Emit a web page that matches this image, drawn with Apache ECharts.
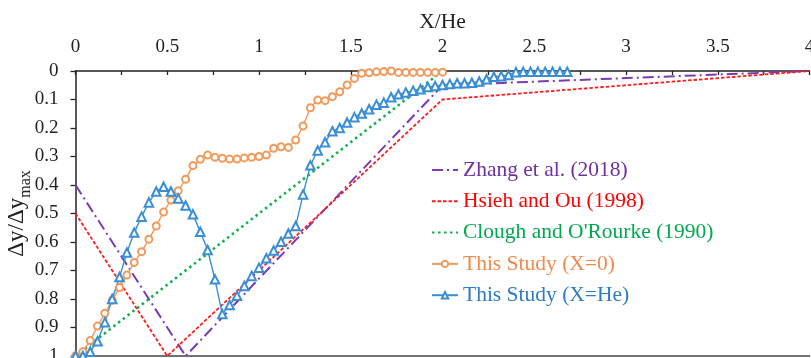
<!DOCTYPE html>
<html>
<head>
<meta charset="utf-8">
<script src="https://cdn.jsdelivr.net/npm/echarts@6/dist/echarts.min.js"></script>
<style>
  html, body { margin: 0; padding: 0; background: #fff; }
  #chart { width: 811px; height: 358px; }
</style>
</head>
<body>
<div id="chart"></div>
<script>
// reference curves (X/He, dy/dymax)
const zhangX = [0, 0.6, 2, 4];
const zhangY = [0.4, 1, 0.05, 0];
const hsiehX = [0, 0.5, 2, 4];
const hsiehY = [0.5, 1, 0.1, 0];
const cloughX = [0, 2];
const cloughY = [1, 0];

// this study, X = 0
const study0X = [0, 0.04, 0.08, 0.12, 0.16, 0.2, 0.24, 0.28, 0.32, 0.36,
  0.4, 0.44, 0.48, 0.52, 0.56, 0.6, 0.64, 0.68, 0.72, 0.76,
  0.8, 0.84, 0.88, 0.92, 0.96, 1, 1.04, 1.08, 1.12, 1.16,
  1.2, 1.24, 1.28, 1.32, 1.36, 1.4, 1.44, 1.48, 1.52, 1.56,
  1.6, 1.64, 1.68, 1.72, 1.76, 1.8, 1.84, 1.88, 1.92, 1.96, 2];
const study0Y = [1, 0.985, 0.946, 0.895, 0.85, 0.804, 0.76, 0.716, 0.672, 0.634,
  0.59, 0.544, 0.495, 0.453, 0.42, 0.38, 0.332, 0.31, 0.295, 0.303,
  0.306, 0.309, 0.309, 0.305, 0.303, 0.3, 0.295, 0.271, 0.266, 0.268,
  0.242, 0.193, 0.129, 0.102, 0.104, 0.09, 0.073, 0.049, 0.026, 0.008,
  0.006, 0.003, 0.002, 0, 0.005, 0.005, 0.005, 0.005, 0.005, 0.005, 0.004];

// this study, X = He
const studyHeX = [0, 0.04, 0.08, 0.12, 0.16, 0.2, 0.24, 0.28, 0.32, 0.36,
  0.4, 0.44, 0.48, 0.52, 0.56, 0.6, 0.64, 0.68, 0.72, 0.76,
  0.8, 0.84, 0.88, 0.92, 0.96, 1, 1.04, 1.08, 1.12, 1.16,
  1.2, 1.24, 1.28, 1.32, 1.36, 1.4, 1.44, 1.48, 1.52, 1.56,
  1.6, 1.64, 1.68, 1.72, 1.76, 1.8, 1.84, 1.88, 1.92, 1.96,
  2, 2.04, 2.08, 2.12, 2.16, 2.2, 2.24, 2.28, 2.32, 2.36,
  2.4, 2.44, 2.48, 2.52, 2.56, 2.6, 2.64, 2.68];
const studyHeY = [1, 1, 0.985, 0.948, 0.882, 0.8, 0.723, 0.637, 0.567, 0.511,
  0.461, 0.423, 0.406, 0.423, 0.447, 0.472, 0.503, 0.564, 0.628, 0.731,
  0.853, 0.821, 0.789, 0.754, 0.719, 0.69, 0.657, 0.63, 0.599, 0.57,
  0.544, 0.433, 0.331, 0.279, 0.25, 0.211, 0.2, 0.181, 0.162, 0.149,
  0.134, 0.118, 0.111, 0.092, 0.082, 0.075, 0.069, 0.064, 0.056, 0.053,
  0.049, 0.046, 0.043, 0.043, 0.041, 0.037, 0.029, 0.02, 0.018, 0.014,
  0.004, 0.003, 0.003, 0.003, 0.003, 0.003, 0.003, 0.003];

const names = ['Zhang et al. (2018)', 'Hsieh and Ou (1998)', "Clough and O'Rourke (1990)",
  'This Study (X=0)', 'This Study (X=He)'];
const colors = ['#7a3cb0', '#ff1a1a', '#12b050', '#f09a5c', '#3a8ed6'];
const textColors = ['#7030a0', '#ff0000', '#00a84f', '#f08a4b', '#2e7bc4'];

function pairs(xs, ys) {
  return xs.map(function (x, i) { return [x, ys[i]]; });
}

const font = '"Liberation Serif", "Times New Roman", serif';
const myChart = echarts.init(document.getElementById('chart'));

option = {
  backgroundColor: '#fff',
  animation: false,
  textStyle: { fontFamily: font },
  grid: { left: 75.5, right: 1.5, top: 71, bottom: 2, outerBoundsMode: 'none', containLabel: false },
  legend: {
    orient: 'vertical',
    left: 431,
    top: 159,
    padding: 0,
    itemWidth: 26,
    itemHeight: 8,
    itemGap: 9.3,
    textStyle: { fontFamily: font, fontSize: 21.5 },
    data: names.map(function (n, i) {
      var item = { name: n, textStyle: { fontFamily: font, fontSize: 21.5, color: textColors[i] } };
      if (i < 3) item.itemStyle = { opacity: 0 };
      return item;
    })
  },
  xAxis: [{
    type: 'value',
    position: 'top',
    min: 0, max: 4, interval: 0.25,
    name: 'X/He',
    nameLocation: 'middle',
    nameGap: 36,
    nameTextStyle: { fontFamily: font, fontSize: 21.5, color: '#222' },
    axisLine: { onZero: false, lineStyle: { color: '#222', width: 1.5 } },
    axisTick: { inside: true, length: 4, lineStyle: { color: '#222', width: 1.3 } },
    axisLabel: {
      margin: 14, fontFamily: font, fontSize: 19, color: '#222',
      formatter: function (v) { return (Math.round(v * 4) % 2 === 0) ? String(v) : ''; }
    },
    splitLine: { show: false }
  }, {
    type: 'value',
    position: 'bottom',
    min: 0, max: 4,
    axisLine: { onZero: false, lineStyle: { color: '#444', width: 1.5 } },
    axisTick: { show: false },
    axisLabel: { show: false },
    splitLine: { show: false }
  }],
  yAxis: {
    type: 'value',
    inverse: true,
    min: 0, max: 1, interval: 0.1,
    name: '{a|Δy/Δy}{b|max}',
    nameLocation: 'middle',
    nameGap: 42,
    nameMoveOverlap: false,
    nameRotate: 90,
    nameTextStyle: {
      rich: {
        a: { fontFamily: font, fontSize: 23, color: '#222', verticalAlign: 'bottom', padding: [0, 0, 5, 0] },
        b: { fontFamily: font, fontSize: 16, color: '#222', verticalAlign: 'bottom' }
      }
    },
    axisLine: { onZero: false, lineStyle: { color: '#222', width: 1.5 } },
    axisTick: { length: 5, lineStyle: { color: '#222', width: 1.3 } },
    axisLabel: { margin: 17, fontFamily: font, fontSize: 19, color: '#222' },
    splitLine: { show: false }
  },
  series: [
    {
      name: names[0], type: 'line', symbol: 'none', color: colors[0],
      lineStyle: { width: 2, type: [11, 4, 2, 4] },
      data: pairs(zhangX, zhangY)
    },
    {
      name: names[1], type: 'line', symbol: 'none', color: colors[1],
      lineStyle: { width: 1.8, type: [3.5, 2] },
      data: pairs(hsiehX, hsiehY)
    },
    {
      name: names[2], type: 'line', symbol: 'none', color: colors[2],
      lineStyle: { width: 2.6, type: [2.5, 3.5] },
      data: pairs(cloughX, cloughY)
    },
    {
      name: names[3], type: 'line', symbol: 'emptyCircle', symbolSize: 7, color: colors[3],
      lineStyle: { width: 1.4 }, itemStyle: { borderWidth: 1.3 },
      data: pairs(study0X, study0Y)
    },
    {
      name: names[4], type: 'line', symbol: 'emptyTriangle', symbolSize: 8.5, color: colors[4],
      lineStyle: { width: 1.4 }, itemStyle: { borderWidth: 1.3 },
      data: pairs(studyHeX, studyHeY)
    }
  ]
};

myChart.setOption(option);
</script>
</body>
</html>
